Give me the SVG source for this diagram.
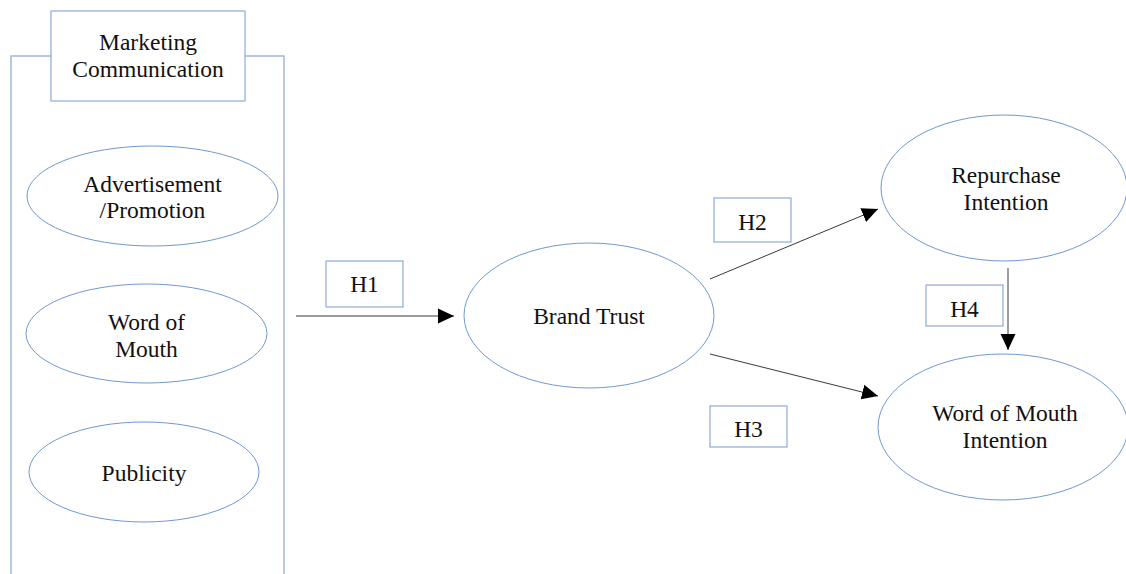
<svg xmlns="http://www.w3.org/2000/svg" width="1126" height="574" viewBox="0 0 1126 574">
  <style>
    .node { fill: #ffffff; stroke: #6f98d2; stroke-width: 1; }
    .box { fill: #ffffff; stroke: #8eaadb; stroke-width: 1.2; }
    .frame { fill: none; stroke: #9fb6da; stroke-width: 1.5; }
    .edge { fill: none; stroke: #3a3a3a; stroke-width: 1; }
    text { font-family: "Liberation Serif", "Times New Roman", serif; font-size: 23.5px; fill: #111111; text-anchor: middle; }
  </style>
  <defs>
    <marker id="arrow" markerUnits="userSpaceOnUse" markerWidth="17" markerHeight="17" viewBox="0 0 17 17" refX="16" refY="8.5" orient="auto">
      <path d="M0,1 L16,8.5 L0,16 Z" fill="#000000"/>
    </marker>
  </defs>

  <rect width="1126" height="574" fill="#ffffff"/>

  <!-- grouping frame around the marketing communication constructs -->
  <g id="frame">
    <path class="frame" d="M51,56 H11 V574 M245,56 H284 V574"/>
  </g>

  <g id="marketing-communication">
    <rect class="box" x="51" y="11" width="194" height="90"/>
    <text x="148" y="50">Marketing</text>
    <text x="148" y="77">Communication</text>
  </g>

  <g id="advertisement">
    <ellipse class="node" cx="152.5" cy="196" rx="125.5" ry="50"/>
    <text x="152.5" y="192">Advertisement</text>
    <text x="152.5" y="218">/Promotion</text>
  </g>

  <g id="word-of-mouth">
    <ellipse class="node" cx="146.5" cy="333.5" rx="120.5" ry="49.5"/>
    <text x="146.5" y="330">Word of</text>
    <text x="146.5" y="357">Mouth</text>
  </g>

  <g id="publicity">
    <ellipse class="node" cx="144" cy="472" rx="115" ry="50"/>
    <text x="144" y="481">Publicity</text>
  </g>

  <g id="brand-trust">
    <ellipse class="node" cx="589" cy="315.5" rx="125" ry="72.5"/>
    <text x="589" y="324">Brand Trust</text>
  </g>

  <g id="repurchase-intention">
    <ellipse class="node" cx="1004" cy="188" rx="123" ry="73"/>
    <text x="1006" y="183">Repurchase</text>
    <text x="1006" y="210">Intention</text>
  </g>

  <g id="wom-intention">
    <ellipse class="node" cx="1003" cy="427" rx="125" ry="73"/>
    <text x="1005" y="421">Word of Mouth</text>
    <text x="1005" y="448">Intention</text>
  </g>

  <!-- hypothesis paths -->
  <g id="connectors">
    <line class="edge" x1="296" y1="316" x2="454" y2="316" marker-end="url(#arrow)"/>
    <line class="edge" x1="710" y1="279" x2="878" y2="209" marker-end="url(#arrow)"/>
    <line class="edge" x1="710" y1="354" x2="878" y2="396" marker-end="url(#arrow)"/>
    <line class="edge" x1="1008" y1="268" x2="1008" y2="350" marker-end="url(#arrow)"/>
  </g>

  <g id="label-h1">
    <rect class="box" x="326" y="261" width="77" height="46"/>
    <text x="364.5" y="292">H1</text>
  </g>
  <g id="label-h2">
    <rect class="box" x="714" y="198" width="77" height="44"/>
    <text x="752.5" y="230">H2</text>
  </g>
  <g id="label-h3">
    <rect class="box" x="710" y="406" width="77" height="41"/>
    <text x="748.5" y="437">H3</text>
  </g>
  <g id="label-h4">
    <rect class="box" x="926" y="285" width="77" height="41"/>
    <text x="964.5" y="317">H4</text>
  </g>
</svg>
